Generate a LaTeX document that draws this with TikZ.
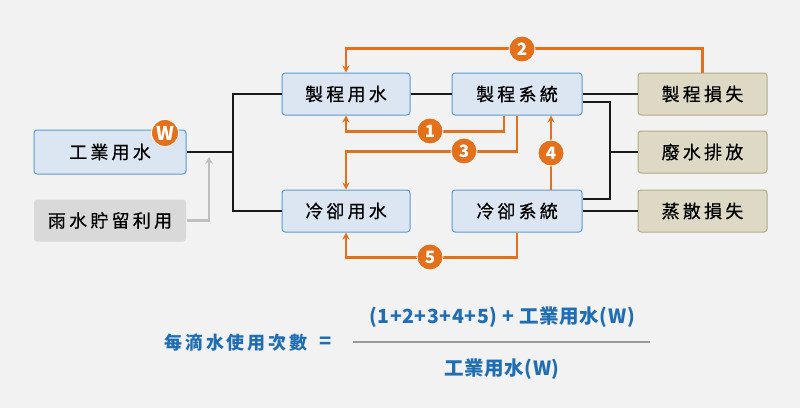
\documentclass[tikz,border=0pt]{standalone}
\usepackage{fontspec}
\setmainfont{Noto Sans CJK TC}
\newfontfamily\boxfont[LetterSpace=18,FakeBold=0.6]{Noto Sans CJK TC}
\newfontfamily\fmlfont[LetterSpace=16]{Noto Sans CJK TC}
\newfontfamily\fmlnum[LetterSpace=3]{Noto Sans CJK TC}
\usetikzlibrary{arrows.meta,calc}
\definecolor{bgc}{HTML}{F2F2F2}
\definecolor{bluefill}{HTML}{DCE6F2}
\definecolor{blueline}{HTML}{5A9BD0}
\definecolor{beigefill}{HTML}{DDD9C4}
\definecolor{beigeline}{HTML}{B3AB88}
\definecolor{grayfill}{HTML}{D9D9D9}
\definecolor{orng}{HTML}{E3701B}
\definecolor{fmlblue}{HTML}{1F6DB3}
\definecolor{arrgray}{HTML}{BFBFBF}
\begin{document}
\begin{tikzpicture}[x=1pt,y=-1pt,
  basebox/.style={rounded corners=3pt, line width=1pt, inner sep=0pt, font=\boxfont\fontsize{18}{21}\selectfont, text=black},
  bluebox/.style={basebox, draw=blueline, fill=bluefill, minimum width=128pt, minimum height=42pt},
  beigebox/.style={basebox, draw=beigeline, fill=beigefill, minimum width=129pt, minimum height=42pt},
  graybox/.style={basebox, fill=grayfill, minimum width=152pt, minimum height=42pt},
  blk/.style={draw=black!90, line width=2.2pt},
  orl/.style={draw=orng, line width=2.2pt},
  ora/.style={orl, -{Stealth[length=7pt,width=7pt]}},
  gra/.style={draw=arrgray, line width=2.2pt, -{Stealth[length=7pt,width=8pt]}},
  badge/.style={circle, fill=orng, draw=white, line width=0.8pt, minimum size=26pt, inner sep=0pt, text=white, font=\bfseries\fontsize{17}{17}\selectfont},
  fml/.style={text=fmlblue, inner sep=0pt}
]
\fill[bgc] (0,0) rectangle (800,408);
\useasboundingbox (0,0) rectangle (800,408);

% boxes
\node[bluebox, minimum width=152pt, minimum height=44pt] (iw) at (110,152) {工業用水};
\node[graybox] (rain) at (110,220.5) {雨水貯留利用};
\node[bluebox] (ps) at (346,94) {製程用水};
\node[bluebox, minimum width=130pt] (pys) at (517,94) {製程系統};
\node[bluebox] (cw) at (346,211) {冷卻用水};
\node[bluebox, minimum width=130pt] (cs) at (517,211) {冷卻系統};
\node[beigebox] (pl) at (702.5,94) {製程損失};
\node[beigebox] (wd) at (702.5,152) {廢水排放};
\node[beigebox] (el) at (702.5,211) {蒸散損失};

% junction coordinates
\coordinate (jx) at (233,152);
\coordinate (jr) at (610,152);
\coordinate (ga) at (209,157);

% black connectors
\draw[blk] (iw.east) -- (jx);
\draw[blk] (ps.west) -| (jx) |- (cw.west);
\draw[blk] (ps.east) -- (pys.west);
\draw[blk] (pys.east) -- (pl.west);
\draw[blk] ([yshift=-8pt]pys.east) -| (jr) |- ([yshift=12pt]cs.east);
\draw[blk] (jr) -- (wd.west);
\draw[blk] (cs.east) -- (el.west);

% gray arrow
\draw[gra] (rain.east) -| (ga);

% orange loops
\draw[ora] (pl.north) -- ++(0,-24) -| (ps.north);
\draw[ora] ([xshift=-13pt]pys.south) -- ++(0,16) -| (ps.south);
\draw[ora] (pys.south) -- ++(0,36) -| (cw.north);
\draw[ora] ([xshift=34pt]cs.north) -- ([xshift=34pt]pys.south);
\draw[ora] (cs.south) -- ++(0,25) -| (cw.south);

% badges
\node[badge] (b1) at (430,131) {1};
\node[badge] (b2) at (522,49) {2};
\node[badge] (b3) at (464,151) {3};
\node[badge] (b4) at (551,153) {4};
\node[badge] (b5) at (430,257) {5};
\node[badge, minimum size=27pt, font=\bfseries\fontsize{19}{19}\selectfont] (bw) at (165,133) {W};

% formula
\node[fml, font=\fmlfont\bfseries\fontsize{18}{21}\selectfont] (lhs) at (236,343) {每滴水使用次數};
\node[fml, font=\bfseries\fontsize{20}{21}\selectfont] (eq) at (326,343) {=};
\draw[draw=black!40, line width=1.4pt] (353,342) -- (650,342);
\node[fml, font=\fmlnum\bfseries\fontsize{19.5}{22}\selectfont] (num) at (502,317) {(1+2+3+4+5) + 工業用水(W)};
\node[fml, font=\fmlnum\bfseries\fontsize{19.5}{22}\selectfont] (den) at (502,369) {工業用水(W)};
\end{tikzpicture}
\end{document}
